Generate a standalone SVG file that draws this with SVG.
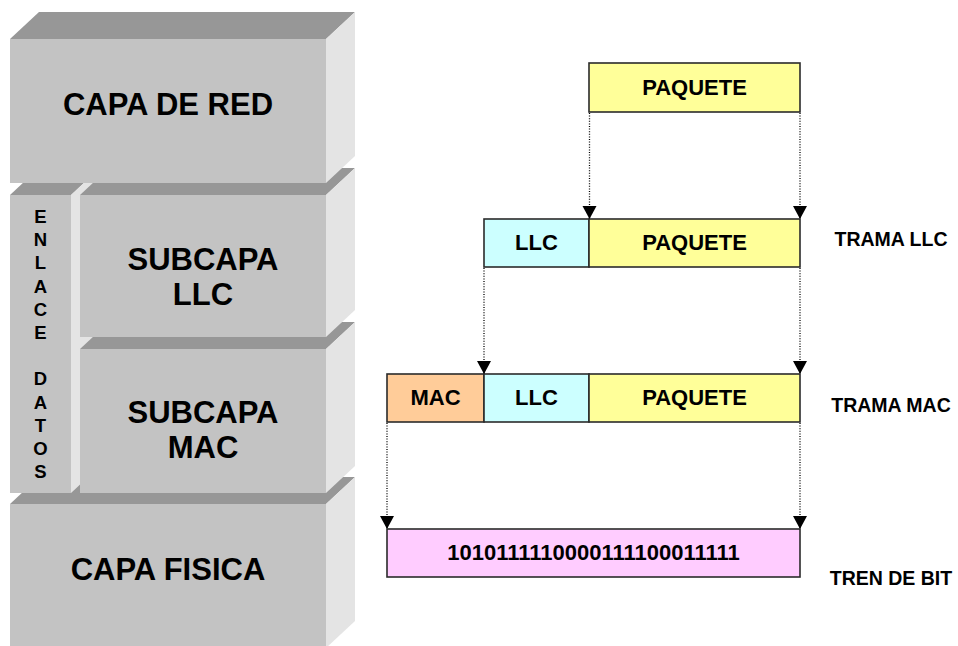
<svg xmlns="http://www.w3.org/2000/svg" width="958" height="646" viewBox="0 0 958 646">
<style>
.front{fill:#c3c3c3}
.top{fill:#979797}
.side{fill:#e4e4e4}
.big{font-family:"Liberation Sans",Arial,sans-serif;font-weight:bold;font-size:31px;fill:#000;text-anchor:middle}
.vert{font-family:"Liberation Sans",Arial,sans-serif;font-weight:bold;font-size:18.5px;fill:#000;text-anchor:middle}
.fld{stroke:#2b2b2b;stroke-width:1.6}
.ft{font-family:"Liberation Sans",Arial,sans-serif;font-weight:bold;font-size:22px;fill:#000;text-anchor:middle}
.lbl{font-family:"Liberation Sans",Arial,sans-serif;font-weight:bold;font-size:19.5px;fill:#000;text-anchor:middle}
.dot{stroke:#000;stroke-width:1.3;stroke-dasharray:1 1.6;fill:none;marker-end:url(#ah)}
</style>
<defs>
<marker id="ah" markerUnits="userSpaceOnUse" markerWidth="15" markerHeight="15" refX="13" refY="7" orient="auto">
<path d="M0,0 L13,7 L0,14 z" fill="#000"/>
</marker>
</defs>
<rect width="958" height="646" fill="#fff"/>

<g id="capa-fisica">
<polygon class="top" points="10,504 326,504 355,477 39,477"/>
<polygon class="side" points="326,504 355,477 355,621 326,648"/>
<rect class="front" x="10" y="504" width="316" height="144"/>
<text class="big" x="168" y="580">CAPA FISICA</text>
</g>

<g id="enlace-datos">
<polygon class="top" points="10,195 71,195 100,168 39,168"/>
<polygon class="side" points="71,195 100,168 100,466 71,493"/>
<rect class="front" x="10" y="195" width="61" height="298"/>
<text class="vert" x="40.5" y="223"><tspan x="40.5">E</tspan><tspan x="40.5" dy="23.2">N</tspan><tspan x="40.5" dy="23.2">L</tspan><tspan x="40.5" dy="23.2">A</tspan><tspan x="40.5" dy="23.2">C</tspan><tspan x="40.5" dy="23.2">E</tspan><tspan x="40.5" dy="46.4">D</tspan><tspan x="40.5" dy="23.2">A</tspan><tspan x="40.5" dy="23.2">T</tspan><tspan x="40.5" dy="23.2">O</tspan><tspan x="40.5" dy="23.2">S</tspan></text>
</g>

<g id="subcapa-mac">
<polygon class="top" points="80,349 326,349 355,322 109,322"/>
<polygon class="side" points="326,349 355,322 355,466 326,493"/>
<rect class="front" x="80" y="349" width="246" height="144"/>
<text class="big" x="203" y="423">SUBCAPA</text>
<text class="big" x="203" y="458">MAC</text>
</g>

<g id="subcapa-llc">
<polygon class="top" points="80,195 326,195 355,168 109,168"/>
<polygon class="side" points="326,195 355,168 355,310 326,337"/>
<rect class="front" x="80" y="195" width="246" height="142"/>
<text class="big" x="203" y="270">SUBCAPA</text>
<text class="big" x="203" y="305">LLC</text>
</g>

<g id="capa-red">
<polygon class="top" points="10,39 326,39 355,12 39,12"/>
<polygon class="side" points="326,39 355,12 355,156 326,183"/>
<rect class="front" x="10" y="39" width="316" height="144"/>
<text class="big" x="168" y="115">CAPA DE RED</text>
</g>

<g id="paquete">
<rect class="fld" x="589" y="63" width="211" height="49" fill="#ffff99"/>
<text class="ft" x="694.5" y="95">PAQUETE</text>
</g>

<g id="trama-llc">
<rect class="fld" x="484" y="219" width="105" height="48" fill="#ccffff"/>
<rect class="fld" x="589" y="219" width="211" height="48" fill="#ffff99"/>
<text class="ft" x="536.5" y="250">LLC</text>
<text class="ft" x="694.5" y="250">PAQUETE</text>
</g>

<g id="trama-mac">
<rect class="fld" x="387" y="374" width="97" height="48" fill="#ffcc99"/>
<rect class="fld" x="484" y="374" width="105" height="48" fill="#ccffff"/>
<rect class="fld" x="589" y="374" width="211" height="48" fill="#ffff99"/>
<text class="ft" x="435.5" y="405">MAC</text>
<text class="ft" x="536.5" y="405">LLC</text>
<text class="ft" x="694.5" y="405">PAQUETE</text>
</g>

<g id="tren-bit">
<rect class="fld" x="387" y="529" width="413" height="48" fill="#ffccff"/>
<text class="ft" x="593.5" y="560">1010111110000111100011111</text>
</g>

<g id="labels">
<text class="lbl" x="891" y="246">TRAMA LLC</text>
<text class="lbl" x="891" y="412">TRAMA MAC</text>
<text class="lbl" x="891" y="585">TREN DE BIT</text>
</g>

<g id="connectors">
<line class="dot" x1="589.5" y1="113" x2="589.5" y2="219"/>
<line class="dot" x1="800" y1="113" x2="800" y2="219"/>
<line class="dot" x1="484" y1="268" x2="484" y2="374"/>
<line class="dot" x1="800" y1="268" x2="800" y2="374"/>
<line class="dot" x1="387" y1="423" x2="387" y2="529"/>
<line class="dot" x1="800" y1="423" x2="800" y2="529"/>
</g>
</svg>
